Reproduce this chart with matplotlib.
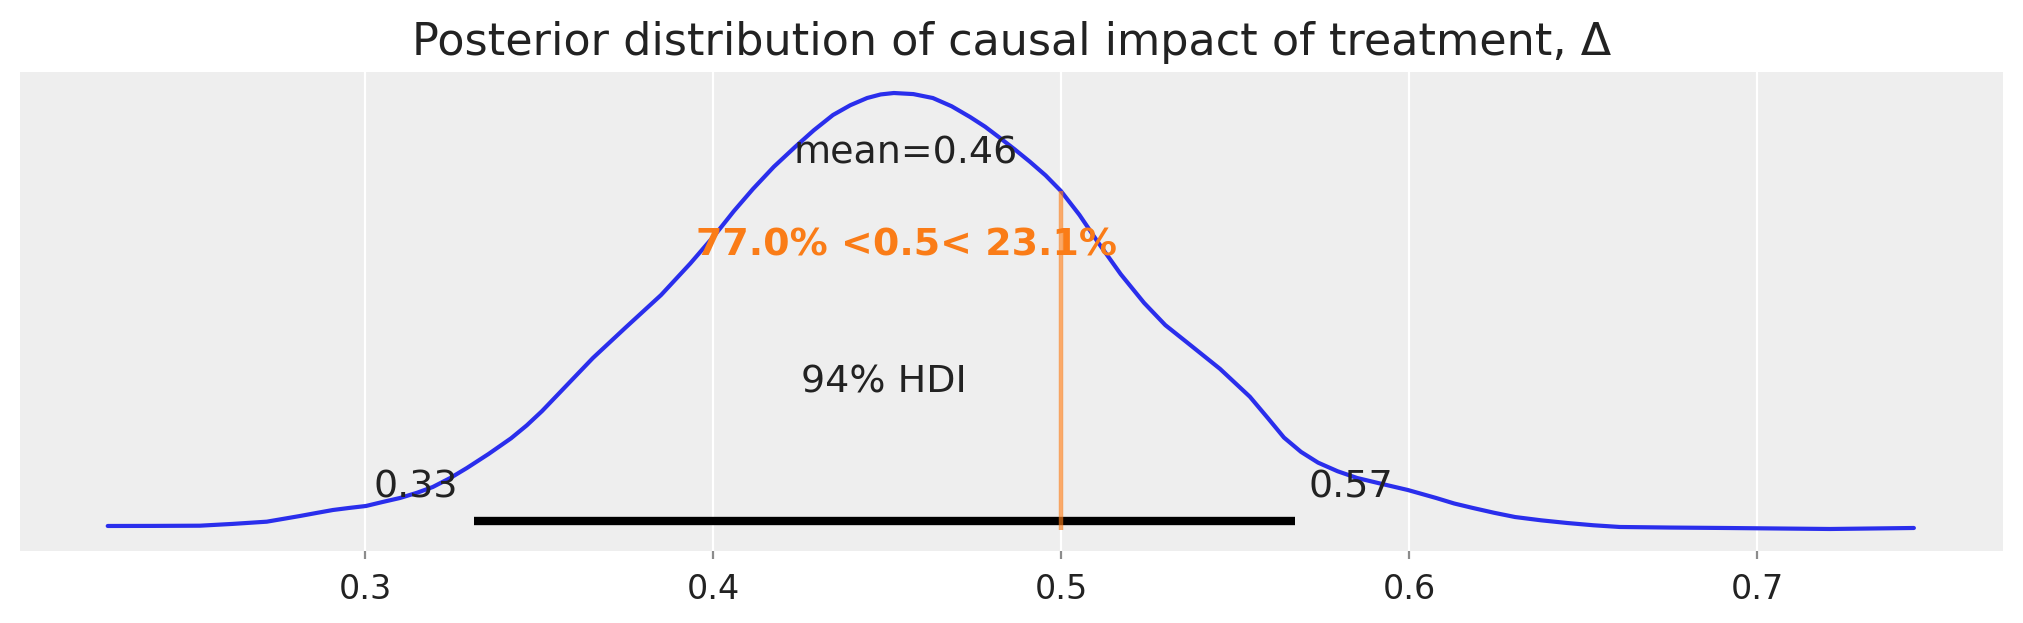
import numpy as np
import matplotlib
matplotlib.use("Agg")
import matplotlib.pyplot as plt

# posterior density of delta
delta_x = [0.2261, 0.2390, 0.2526, 0.2620, 0.2718, 0.2765, 0.2813, 0.2860, 0.2908,
           0.2955, 0.3003, 0.3050, 0.3101, 0.3150, 0.3195, 0.3245, 0.3293, 0.3355,
           0.3420, 0.3465, 0.3509, 0.3580, 0.3655, 0.3750, 0.3851, 0.3935, 0.4006,
           0.4060, 0.4115, 0.4175, 0.4236, 0.4290, 0.4345, 0.4395, 0.4443, 0.4482,
           0.4520, 0.4576, 0.4632, 0.4686, 0.4739, 0.4782, 0.4825, 0.4868, 0.4911,
           0.4956, 0.5000, 0.5053, 0.5106, 0.5172, 0.5239, 0.5300, 0.5362, 0.5457,
           0.5543, 0.5595, 0.5641, 0.5690, 0.5739, 0.5795, 0.5851, 0.5925, 0.5997,
           0.6078, 0.6130, 0.6184, 0.6245, 0.6305, 0.6380, 0.6454, 0.6530, 0.6606,
           0.6750, 0.6908, 0.7210, 0.7451]
density = [0.056, 0.057, 0.060, 0.085, 0.116, 0.155, 0.195, 0.237, 0.279,
           0.308, 0.335, 0.390, 0.447, 0.520, 0.600, 0.725, 0.865, 1.060,
           1.280, 1.460, 1.660, 2.020, 2.400, 2.830, 3.280, 3.720, 4.120,
           4.450, 4.760, 5.070, 5.346, 5.580, 5.793, 5.930, 6.030, 6.080,
           6.100, 6.085, 6.030, 5.915, 5.765, 5.630, 5.472, 5.310, 5.140,
           4.950, 4.732, 4.400, 4.020, 3.570, 3.170, 2.860, 2.620, 2.250,
           1.860, 1.560, 1.290, 1.090, 0.940, 0.820, 0.726, 0.640, 0.558,
           0.447, 0.370, 0.307, 0.240, 0.181, 0.135, 0.098, 0.066, 0.042,
           0.034, 0.028, 0.014, 0.028]

mean_val = 0.4555
mean_label = "mean=0.46"
hdi = [0.3313, 0.5672]
hdi_labels = ["0.33", "0.57"]
hdi_text = "94% HDI"
ref_val = 0.5
ref_density = 4.732
ref_label = "77.0% <0.5< 23.1%"
xticks = [0.3, 0.4, 0.5, 0.6, 0.7]
xticklabels = ["0.3", "0.4", "0.5", "0.6", "0.7"]

blue = "#2a2eec"
orange = "#fa7c17"
txt = "#222222"

fig = plt.figure(figsize=(10.115, 3.115), dpi=200)
ax = fig.add_axes([0.0099, 0.1156, 0.9802, 0.7688])
ax.set_facecolor("#eeeeee")
for sp in ax.spines.values():
    sp.set_visible(False)

ylim_top = 6.393
ax.plot(delta_x, density, color=blue, lw=1.5, solid_capstyle="round",
        solid_joinstyle="round")
ax.plot(hdi, [ylim_top * 0.02] * 2, color="k", lw=3.0, solid_capstyle="butt")
ax.vlines(ref_val, 0, ref_density, colors=orange, alpha=0.65, lw=1.6)

fs = 13.7
ax.text(hdi[0] - 0.0045, ylim_top * 0.07, hdi_labels[0], ha="right", fontsize=fs, color=txt)
ax.text(hdi[1] + 0.004, ylim_top * 0.07, hdi_labels[1], ha="left", fontsize=fs, color=txt)
ax.text(np.mean(hdi), ylim_top * 0.3, hdi_text, ha="center", fontsize=fs, color=txt)
ax.text(mean_val, ylim_top * 0.8, mean_label, ha="center", fontsize=fs, color=txt)
ax.text(mean_val, ylim_top * 0.6, ref_label, ha="center", fontsize=fs,
        color=orange, weight="bold")

ax.set_xlim(0.2009, 0.7707)
ax.set_ylim(-0.293, ylim_top)
ax.set_xticks(xticks)
ax.set_xticklabels(xticklabels)
ax.set_yticks([])
ax.tick_params(axis="x", length=3, width=0.8, color="#8c8c8c", labelsize=12,
               labelcolor=txt, pad=5)
ax.grid(axis="x", color="white", lw=0.8)
ax.set_axisbelow(True)

ax.set_title("Posterior distribution of causal impact of treatment, Δ",
             fontsize=16, color=txt, pad=6)

fig.savefig("out.png", dpi=200)
